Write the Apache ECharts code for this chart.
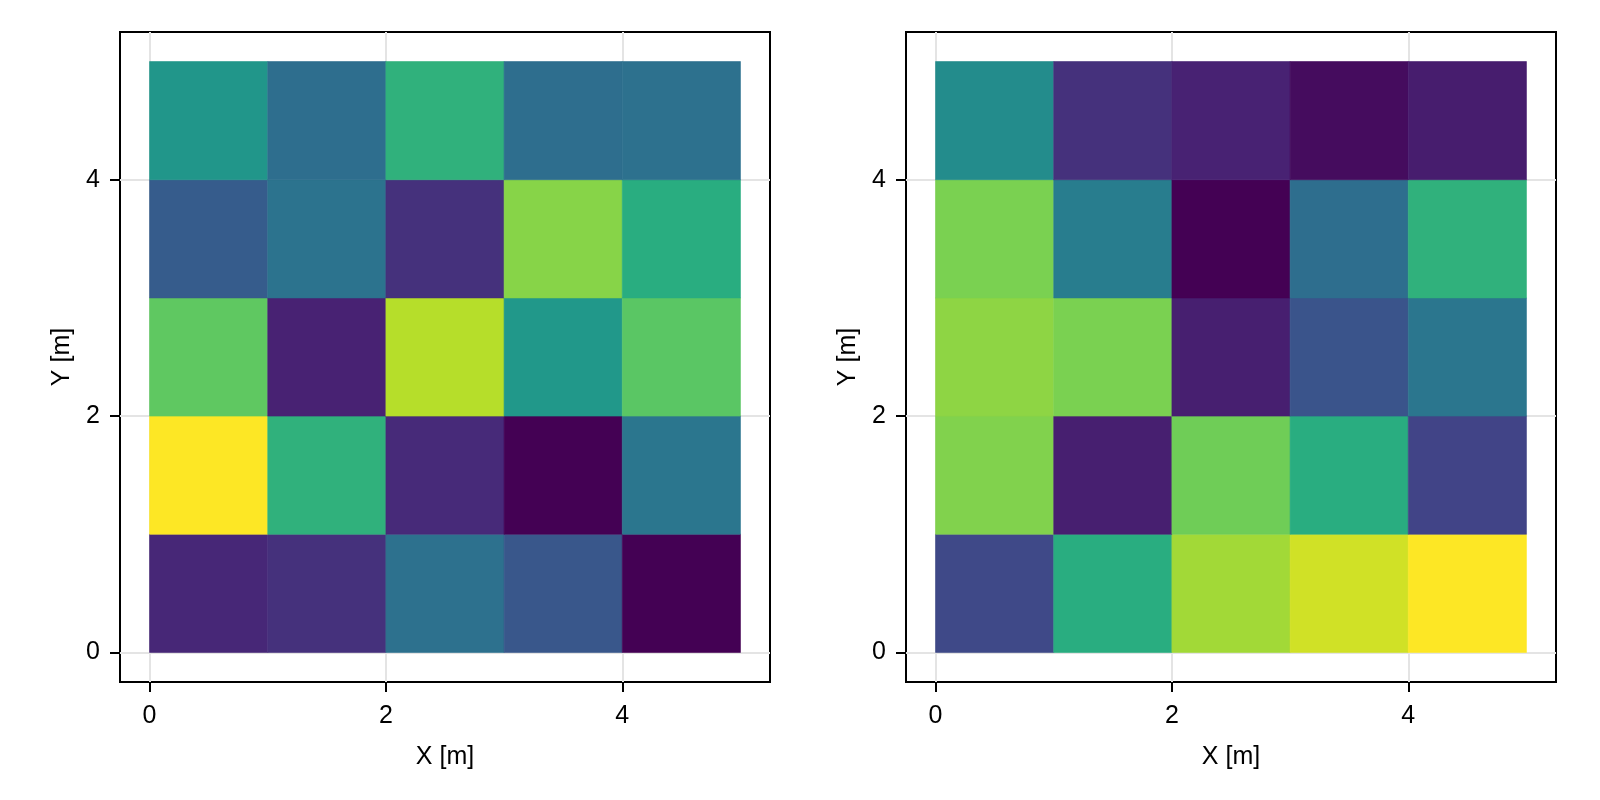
<!DOCTYPE html>
<html>
<head>
<meta charset="utf-8">
<script src="https://cdn.jsdelivr.net/npm/echarts@6/dist/echarts.min.js"></script>
<style>
  html, body { margin: 0; padding: 0; background: #fff; }
  #chart { width: 1600px; height: 800px; }
</style>
</head>
<body>
<div id="chart"></div>
<script>
// cell index along each axis (cell i covers i..i+1)
const xCells = [0, 1, 2, 3, 4]
const yCells = [0, 1, 2, 3, 4]
const tickValues = [0, 2, 4]

// rows go from y = 0 (bottom) to y = 4 (top), normalised 0..1
const leftRows = [
  [0.11, 0.14, 0.37, 0.27, 0.00],
  [1.00, 0.64, 0.12, 0.00, 0.39],
  [0.75, 0.095, 0.89, 0.53, 0.74],
  [0.29, 0.38, 0.14, 0.82, 0.62],
  [0.52, 0.36, 0.64, 0.36, 0.37]
]
const rightRows = [
  [0.22, 0.62, 0.86, 0.93, 1.00],
  [0.81, 0.085, 0.78, 0.62, 0.20],
  [0.83, 0.80, 0.085, 0.26, 0.39],
  [0.80, 0.42, 0.00, 0.36, 0.64],
  [0.48, 0.14, 0.095, 0.03, 0.08]
]

const viridis = ['#440154', '#482475', '#414487', '#355f8d', '#2a788e', '#21918c',
  '#22a884', '#44bf70', '#7ad151', '#bddf26', '#fde725']

function toCells (rows) {
  const out = []
  yCells.forEach((y, j) => {
    xCells.forEach((x, i) => {
      out.push([x, y, rows[j][i]])
    })
  })
  return out
}

const font = 'Liberation Sans, Arial, sans-serif'

function makeAxis (dim, idx) {
  return {
    type: 'value',
    gridIndex: idx,
    min: -0.25,
    max: 5.25,
    name: dim === 'x' ? 'X [m]' : 'Y [m]',
    nameLocation: 'middle',
    nameGap: dim === 'x' ? 63 : 45,
    nameTextStyle: { color: '#000', fontSize: 25, fontFamily: font },
    axisLine: { show: false, onZero: false },
    axisTick: { show: true, customValues: tickValues, length: 10, lineStyle: { color: '#000', width: 2 } },
    axisLabel: { customValues: tickValues, margin: dim === 'x' ? 22 : 20, color: '#000', fontSize: 25, fontFamily: font },
    splitLine: { show: false }
  }
}

function cellSeries (rows, idx) {
  return {
    type: 'custom',
    xAxisIndex: idx,
    yAxisIndex: idx,
    z: 3,
    data: toCells(rows),
    encode: { x: 0, y: 1 },
    renderItem: function (params, api) {
      const x = api.value(0)
      const y = api.value(1)
      const p0 = api.coord([x, y + 1])
      const p1 = api.coord([x + 1, y])
      const c = api.visual('color')
      // thin stroke of the same colour hides seams between cells
      return {
        type: 'rect',
        shape: { x: p0[0], y: p0[1], width: p1[0] - p0[0], height: p1[1] - p0[1] },
        style: { fill: c, stroke: c, lineWidth: 0.6 }
      }
    }
  }
}

// light grid lines under the cells
function gridSeries (idx) {
  return {
    type: 'line',
    xAxisIndex: idx,
    yAxisIndex: idx,
    z: 1,
    data: [],
    markLine: {
      z: 1,
      silent: true,
      symbol: 'none',
      label: { show: false },
      lineStyle: { color: '#e4e4e4', width: 2, type: 'solid' },
      data: tickValues.map(v => ({ xAxis: v })).concat(tickValues.map(v => ({ yAxis: v })))
    }
  }
}

const chart = echarts.init(document.getElementById('chart'))
chart.setOption({
  animation: false,
  backgroundColor: '#fff',
  grid: [
    { left: 120, top: 32, width: 650, height: 650, show: true, borderColor: '#000', borderWidth: 2, backgroundColor: 'transparent' },
    { left: 906, top: 32, width: 650, height: 650, show: true, borderColor: '#000', borderWidth: 2, backgroundColor: 'transparent' }
  ],
  xAxis: [makeAxis('x', 0), makeAxis('x', 1)],
  yAxis: [makeAxis('y', 0), makeAxis('y', 1)],
  visualMap: [
    { show: false, seriesIndex: 2, dimension: 2, min: 0, max: 1, inRange: { color: viridis } },
    { show: false, seriesIndex: 3, dimension: 2, min: 0, max: 1, inRange: { color: viridis } }
  ],
  series: [
    gridSeries(0),
    gridSeries(1),
    cellSeries(leftRows, 0),
    cellSeries(rightRows, 1)
  ]
})
</script>
</body>
</html>
